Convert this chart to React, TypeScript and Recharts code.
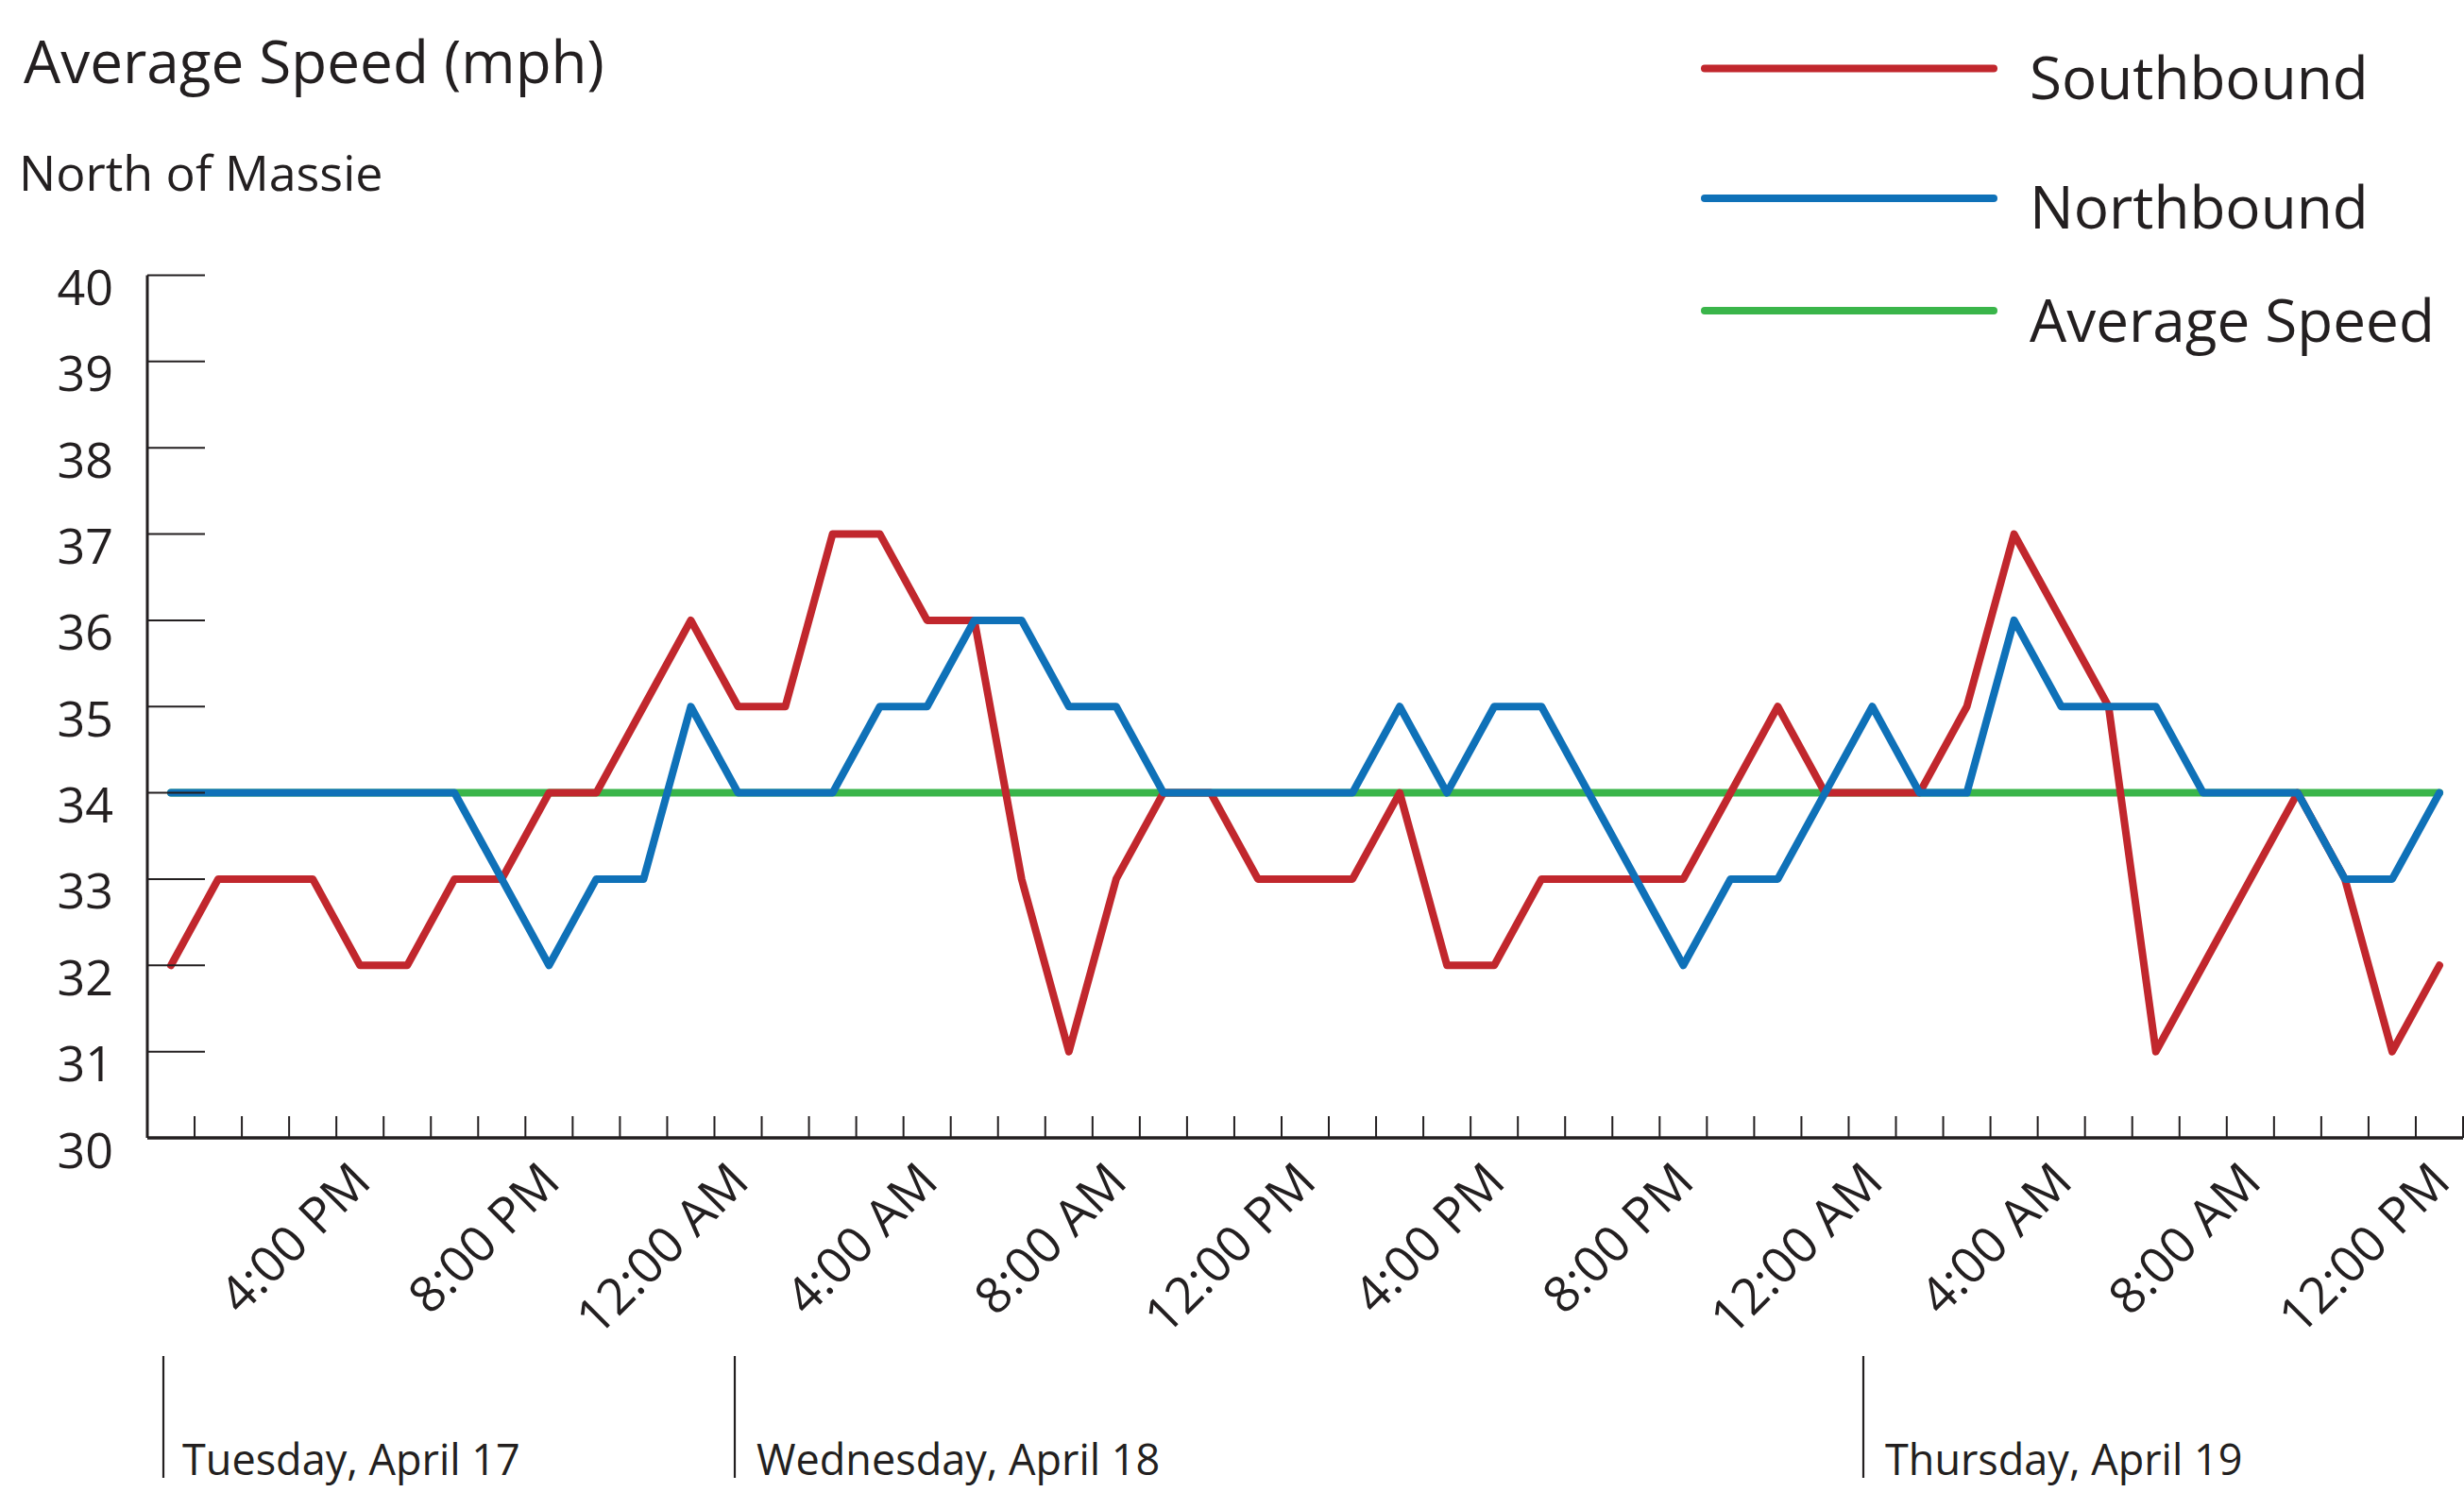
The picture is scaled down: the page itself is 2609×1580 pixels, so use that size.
import React from 'react';
import { LineChart, Line, XAxis, YAxis } from 'recharts';

// ---------- data ----------
const hours = [
  '12:00 PM', '1:00 PM', '2:00 PM', '3:00 PM', '4:00 PM', '5:00 PM', '6:00 PM', '7:00 PM',
  '8:00 PM', '9:00 PM', '10:00 PM', '11:00 PM',
  '12:00 AM', '1:00 AM', '2:00 AM', '3:00 AM', '4:00 AM', '5:00 AM', '6:00 AM', '7:00 AM',
  '8:00 AM', '9:00 AM', '10:00 AM', '11:00 AM',
  '12:00 PM', '1:00 PM', '2:00 PM', '3:00 PM', '4:00 PM', '5:00 PM', '6:00 PM', '7:00 PM',
  '8:00 PM', '9:00 PM', '10:00 PM', '11:00 PM',
  '12:00 AM', '1:00 AM', '2:00 AM', '3:00 AM', '4:00 AM', '5:00 AM', '6:00 AM', '7:00 AM',
  '8:00 AM', '9:00 AM', '10:00 AM', '11:00 AM',
  '12:00 PM',
];

const southbound = [
  32, 33, 33, 33, 32, 32, 33, 33, 34, 34, 35, 36,
  35, 35, 37, 37, 36, 36, 33, 31, 33, 34, 34, 33,
  33, 33, 34, 32, 32, 33, 33, 33, 33, 34, 35, 34,
  34, 34, 35, 37, 36, 35, 31, 32, 33, 34, 33, 31,
  32,
];

const northbound = [
  34, 34, 34, 34, 34, 34, 34, 33, 32, 33, 33, 35,
  34, 34, 34, 35, 35, 36, 36, 35, 35, 34, 34, 34,
  34, 34, 35, 34, 35, 35, 34, 33, 32, 33, 33, 34,
  35, 34, 34, 36, 35, 35, 35, 34, 34, 34, 33, 33,
  34,
];

const averageSpeed = [
  34, 34, 34, 34, 34, 34, 34, 34, 34, 34, 34, 34,
  34, 34, 34, 34, 34, 34, 34, 34, 34, 34, 34, 34,
  34, 34, 34, 34, 34, 34, 34, 34, 34, 34, 34, 34,
  34, 34, 34, 34, 34, 34, 34, 34, 34, 34, 34, 34,
  34,
];

const yTicks = [30, 31, 32, 33, 34, 35, 36, 37, 38, 39, 40];
const labeledHours = [4, 8, 12, 16, 20, 24, 28, 32, 36, 40, 44, 48];
const dayLabels = ['Tuesday, April 17', 'Wednesday, April 18', 'Thursday, April 19'];

const seriesNames = ['Southbound', 'Northbound', 'Average Speed'];
const seriesKeys = ['south', 'north', 'avg'];

// ---------- styles ----------
const INK = '#231F20';
const FONT = "'Open Sans', 'Noto Sans', sans-serif";
const COLORS: Record<string, string> = {
  south: '#C1272D',
  north: '#0F71B8',
  avg: '#3AB54A',
};

const data = hours.map((h, i) => ({
  idx: i,
  hour: h,
  south: southbound[i],
  north: northbound[i],
  avg: averageSpeed[i],
}));

const xTicks: number[] = [-0.5];
hours.forEach((_, i) => {
  xTicks.push(i);
  xTicks.push(i + 0.5);
});

const XTick = (props: any) => {
  const { x, y, payload } = props;
  const v = payload.value;
  if (!Number.isInteger(v)) {
    if (v < 0) return <g />;
    return <line x1={x} x2={x} y1={y} y2={y - 23} stroke={INK} strokeWidth={2} />;
  }
  if (!labeledHours.includes(v)) return <g />;
  return (
    <text
      transform={`translate(${x + 14},${y + 49}) rotate(-45)`}
      textAnchor="end"
      fontSize={53}
      fontFamily={FONT}
      fill={INK}
    >
      {hours[v]}
    </text>
  );
};

const YTick = (props: any) => {
  const { x, y, payload } = props;
  return (
    <g>
      <line x1={x} x2={x + 61} y1={y} y2={y} stroke={INK} strokeWidth={2} />
      <text x={x - 36} y={y + 31.5} textAnchor="end" fontSize={52} fontFamily={FONT} fill={INK}>
        {payload.value}
      </text>
    </g>
  );
};

const legendRows = [
  { lineY: 72.5, baseY: 105 },
  { lineY: 210, baseY: 242 },
  { lineY: 329, baseY: 362 },
];

const daySeparators = [
  { x: 173, tx: 193 },
  { x: 778, tx: 801 },
  { x: 1973, tx: 1996 },
];

export default function App() {
  return (
    <div style={{ position: 'absolute', left: 0, top: 0, width: 2609, height: 1580, background: '#fff' }}>
      <LineChart
        width={2609}
        height={1580}
        data={data}
        margin={{ top: 291.5, right: 1, bottom: 345, left: 96 }}
      >
        <XAxis
          type="number"
          dataKey="idx"
          domain={[-0.5, 48.5]}
          ticks={xTicks}
          interval={0}
          tick={XTick}
          tickLine={false}
          tickSize={0}
          tickMargin={0}
          height={30}
          allowDataOverflow
          axisLine={{ stroke: INK, strokeWidth: 3.3 }}
        />
        <YAxis
          type="number"
          domain={[30, 40]}
          ticks={yTicks}
          interval={0}
          tick={YTick}
          tickLine={false}
          tickSize={0}
          tickMargin={0}
          width={60}
          allowDataOverflow
          axisLine={{ stroke: INK, strokeWidth: 3 }}
        />
        <Line
          type="linear"
          dataKey="avg"
          name={seriesNames[2]}
          stroke={COLORS.avg}
          strokeWidth={8}
          dot={false}
          activeDot={false}
          strokeLinejoin="round"
          strokeLinecap="round"
          isAnimationActive={false}
        />
        <Line
          type="linear"
          dataKey="south"
          name={seriesNames[0]}
          stroke={COLORS.south}
          strokeWidth={8}
          dot={false}
          activeDot={false}
          strokeLinejoin="round"
          strokeLinecap="round"
          isAnimationActive={false}
        />
        <Line
          type="linear"
          dataKey="north"
          name={seriesNames[1]}
          stroke={COLORS.north}
          strokeWidth={8}
          dot={false}
          activeDot={false}
          strokeLinejoin="round"
          strokeLinecap="round"
          isAnimationActive={false}
        />
      </LineChart>
      <svg
        width={2609}
        height={1580}
        style={{ position: 'absolute', left: 0, top: 0, pointerEvents: 'none' }}
      >
        <text x={25} y={88} fontSize={62} fontFamily={FONT} fill={INK}>
          Average Speed (mph)
        </text>
        <text x={20} y={202} fontSize={52} fontFamily={FONT} fill={INK}>
          North of Massie
        </text>
        {seriesKeys.map((k, i) => (
          <g key={k}>
            <line
              x1={1805}
              x2={2111}
              y1={legendRows[i].lineY}
              y2={legendRows[i].lineY}
              stroke={COLORS[k]}
              strokeWidth={8}
              strokeLinecap="round"
            />
            <text x={2149} y={legendRows[i].baseY} fontSize={62} fontFamily={FONT} fill={INK}>
              {seriesNames[i]}
            </text>
          </g>
        ))}
        {dayLabels.map((d, i) => (
          <g key={d}>
            <line
              x1={daySeparators[i].x}
              x2={daySeparators[i].x}
              y1={1436}
              y2={1565}
              stroke={INK}
              strokeWidth={2.2}
            />
            <text x={daySeparators[i].tx} y={1562} fontSize={45} fontFamily={FONT} fill={INK}>
              {d}
            </text>
          </g>
        ))}
      </svg>
    </div>
  );
}
